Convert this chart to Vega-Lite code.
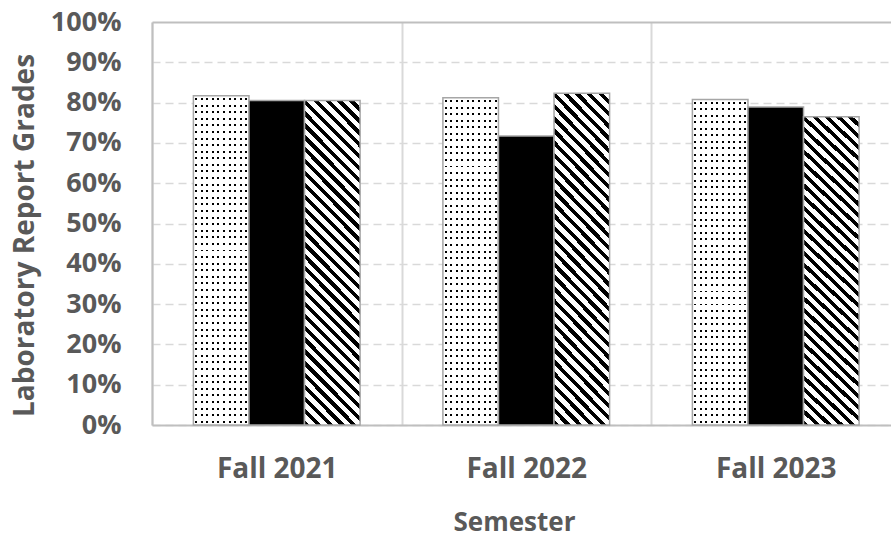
{
  "$schema": "https://vega.github.io/schema/vega-lite/v6.json",
  "autosize": {"type": "none"},
  "width": 739,
  "height": 403,
  "padding": {"left": 152, "top": 22, "right": 0, "bottom": 112},
  "background": "#ffffff",
  "config": {"view": {"stroke": null}},
  "data": {
    "values": [
      {"semester": "Fall 2021", "series": "A", "grade": 0.817},
      {"semester": "Fall 2021", "series": "B", "grade": 0.805},
      {"semester": "Fall 2021", "series": "C", "grade": 0.805},
      {"semester": "Fall 2022", "series": "A", "grade": 0.812},
      {"semester": "Fall 2022", "series": "B", "grade": 0.717},
      {"semester": "Fall 2022", "series": "C", "grade": 0.823},
      {"semester": "Fall 2023", "series": "A", "grade": 0.808},
      {"semester": "Fall 2023", "series": "B", "grade": 0.789},
      {"semester": "Fall 2023", "series": "C", "grade": 0.765}
    ]
  },
  "encoding": {
    "x": {
      "field": "semester",
      "type": "nominal",
      "scale": {"range": [0, 748.5], "paddingInner": 0, "paddingOuter": 0},
      "axis": {
        "labelAngle": 0,
        "tickBand": "extent",
        "ticks": false,
        "tickSize": 0,
        "labelPadding": 30,
        "labelFont": "Open Sans",
        "labelFontSize": 28,
        "labelFontWeight": "bold",
        "labelColor": "#595959",
        "domainColor": "#bfbfbf",
        "domainWidth": 2,
        "grid": true,
        "gridColor": "#d9d9d9",
        "gridWidth": 2,
        "title": "Semester",
        "titleFont": "Open Sans",
        "titleFontSize": 26,
        "titleFontWeight": "bold",
        "titleColor": "#595959",
        "titleX": 362,
        "titleY": 105,
        "titleAlign": "center",
        "titleBaseline": "alphabetic"
      }
    },
    "xOffset": {
      "field": "series",
      "type": "nominal",
      "scale": {"paddingInner": 0, "paddingOuter": 0.745}
    },
    "y": {
      "field": "grade",
      "type": "quantitative",
      "scale": {"domain": [0, 1], "nice": false},
      "axis": {
        "values": [0, 0.1, 0.2, 0.3, 0.4, 0.5, 0.6, 0.7, 0.8, 0.9, 1],
        "format": ".0%",
        "ticks": false,
        "tickSize": 0,
        "labelPadding": 31,
        "labelFont": "Open Sans",
        "labelFontSize": 27,
        "labelFontWeight": "bold",
        "labelColor": "#595959",
        "domainColor": "#bfbfbf",
        "domainWidth": 2,
        "grid": true,
        "gridColor": {"condition": {"test": "datum.value === 1", "value": "#bfbfbf"}, "value": "#d9d9d9"},
        "gridDash": {"condition": {"test": "datum.value === 1", "value": []}, "value": [8, 5]},
        "gridWidth": {"condition": {"test": "datum.value === 1", "value": 2}, "value": 1.5},
        "title": "Laboratory Report Grades",
        "titleFont": "Open Sans",
        "titleFontSize": 28,
        "titleFontWeight": "bold",
        "titleColor": "#595959",
        "titleAngle": -90,
        "titleX": -119,
        "titleY": 213,
        "titleAlign": "center",
        "titleBaseline": "alphabetic"
      }
    }
  },
  "layer": [
    {
      "transform": [{"filter": "datum.series === 'A'"}],
      "mark": {
        "type": "bar",
        "strokeWidth": 0,
        "fill": {
          "gradient": "linear", "x1": 0, "y1": 0, "x2": 0, "y2": 1,
          "stops": [
            {"offset": 0.007, "color": "#fff"}, {"offset": 0.007, "color": "#000"}, {"offset": 0.013, "color": "#000"}, {"offset": 0.013, "color": "#fff"},
            {"offset": 0.027, "color": "#fff"}, {"offset": 0.027, "color": "#000"}, {"offset": 0.033, "color": "#000"}, {"offset": 0.033, "color": "#fff"},
            {"offset": 0.047, "color": "#fff"}, {"offset": 0.047, "color": "#000"}, {"offset": 0.053, "color": "#000"}, {"offset": 0.053, "color": "#fff"},
            {"offset": 0.067, "color": "#fff"}, {"offset": 0.067, "color": "#000"}, {"offset": 0.073, "color": "#000"}, {"offset": 0.073, "color": "#fff"},
            {"offset": 0.087, "color": "#fff"}, {"offset": 0.087, "color": "#000"}, {"offset": 0.093, "color": "#000"}, {"offset": 0.093, "color": "#fff"},
            {"offset": 0.107, "color": "#fff"}, {"offset": 0.107, "color": "#000"}, {"offset": 0.113, "color": "#000"}, {"offset": 0.113, "color": "#fff"},
            {"offset": 0.127, "color": "#fff"}, {"offset": 0.127, "color": "#000"}, {"offset": 0.133, "color": "#000"}, {"offset": 0.133, "color": "#fff"},
            {"offset": 0.147, "color": "#fff"}, {"offset": 0.147, "color": "#000"}, {"offset": 0.153, "color": "#000"}, {"offset": 0.153, "color": "#fff"},
            {"offset": 0.167, "color": "#fff"}, {"offset": 0.167, "color": "#000"}, {"offset": 0.173, "color": "#000"}, {"offset": 0.173, "color": "#fff"},
            {"offset": 0.187, "color": "#fff"}, {"offset": 0.187, "color": "#000"}, {"offset": 0.193, "color": "#000"}, {"offset": 0.193, "color": "#fff"},
            {"offset": 0.207, "color": "#fff"}, {"offset": 0.207, "color": "#000"}, {"offset": 0.213, "color": "#000"}, {"offset": 0.213, "color": "#fff"},
            {"offset": 0.227, "color": "#fff"}, {"offset": 0.227, "color": "#000"}, {"offset": 0.233, "color": "#000"}, {"offset": 0.233, "color": "#fff"},
            {"offset": 0.247, "color": "#fff"}, {"offset": 0.247, "color": "#000"}, {"offset": 0.253, "color": "#000"}, {"offset": 0.253, "color": "#fff"},
            {"offset": 0.267, "color": "#fff"}, {"offset": 0.267, "color": "#000"}, {"offset": 0.273, "color": "#000"}, {"offset": 0.273, "color": "#fff"},
            {"offset": 0.287, "color": "#fff"}, {"offset": 0.287, "color": "#000"}, {"offset": 0.293, "color": "#000"}, {"offset": 0.293, "color": "#fff"},
            {"offset": 0.307, "color": "#fff"}, {"offset": 0.307, "color": "#000"}, {"offset": 0.313, "color": "#000"}, {"offset": 0.313, "color": "#fff"},
            {"offset": 0.327, "color": "#fff"}, {"offset": 0.327, "color": "#000"}, {"offset": 0.333, "color": "#000"}, {"offset": 0.333, "color": "#fff"},
            {"offset": 0.347, "color": "#fff"}, {"offset": 0.347, "color": "#000"}, {"offset": 0.353, "color": "#000"}, {"offset": 0.353, "color": "#fff"},
            {"offset": 0.367, "color": "#fff"}, {"offset": 0.367, "color": "#000"}, {"offset": 0.373, "color": "#000"}, {"offset": 0.373, "color": "#fff"},
            {"offset": 0.387, "color": "#fff"}, {"offset": 0.387, "color": "#000"}, {"offset": 0.393, "color": "#000"}, {"offset": 0.393, "color": "#fff"},
            {"offset": 0.407, "color": "#fff"}, {"offset": 0.407, "color": "#000"}, {"offset": 0.413, "color": "#000"}, {"offset": 0.413, "color": "#fff"},
            {"offset": 0.427, "color": "#fff"}, {"offset": 0.427, "color": "#000"}, {"offset": 0.433, "color": "#000"}, {"offset": 0.433, "color": "#fff"},
            {"offset": 0.447, "color": "#fff"}, {"offset": 0.447, "color": "#000"}, {"offset": 0.453, "color": "#000"}, {"offset": 0.453, "color": "#fff"},
            {"offset": 0.467, "color": "#fff"}, {"offset": 0.467, "color": "#000"}, {"offset": 0.473, "color": "#000"}, {"offset": 0.473, "color": "#fff"},
            {"offset": 0.487, "color": "#fff"}, {"offset": 0.487, "color": "#000"}, {"offset": 0.493, "color": "#000"}, {"offset": 0.493, "color": "#fff"},
            {"offset": 0.507, "color": "#fff"}, {"offset": 0.507, "color": "#000"}, {"offset": 0.513, "color": "#000"}, {"offset": 0.513, "color": "#fff"},
            {"offset": 0.527, "color": "#fff"}, {"offset": 0.527, "color": "#000"}, {"offset": 0.533, "color": "#000"}, {"offset": 0.533, "color": "#fff"},
            {"offset": 0.547, "color": "#fff"}, {"offset": 0.547, "color": "#000"}, {"offset": 0.553, "color": "#000"}, {"offset": 0.553, "color": "#fff"},
            {"offset": 0.567, "color": "#fff"}, {"offset": 0.567, "color": "#000"}, {"offset": 0.573, "color": "#000"}, {"offset": 0.573, "color": "#fff"},
            {"offset": 0.587, "color": "#fff"}, {"offset": 0.587, "color": "#000"}, {"offset": 0.593, "color": "#000"}, {"offset": 0.593, "color": "#fff"},
            {"offset": 0.607, "color": "#fff"}, {"offset": 0.607, "color": "#000"}, {"offset": 0.613, "color": "#000"}, {"offset": 0.613, "color": "#fff"},
            {"offset": 0.627, "color": "#fff"}, {"offset": 0.627, "color": "#000"}, {"offset": 0.633, "color": "#000"}, {"offset": 0.633, "color": "#fff"},
            {"offset": 0.647, "color": "#fff"}, {"offset": 0.647, "color": "#000"}, {"offset": 0.653, "color": "#000"}, {"offset": 0.653, "color": "#fff"},
            {"offset": 0.667, "color": "#fff"}, {"offset": 0.667, "color": "#000"}, {"offset": 0.673, "color": "#000"}, {"offset": 0.673, "color": "#fff"},
            {"offset": 0.687, "color": "#fff"}, {"offset": 0.687, "color": "#000"}, {"offset": 0.693, "color": "#000"}, {"offset": 0.693, "color": "#fff"},
            {"offset": 0.707, "color": "#fff"}, {"offset": 0.707, "color": "#000"}, {"offset": 0.713, "color": "#000"}, {"offset": 0.713, "color": "#fff"},
            {"offset": 0.727, "color": "#fff"}, {"offset": 0.727, "color": "#000"}, {"offset": 0.733, "color": "#000"}, {"offset": 0.733, "color": "#fff"},
            {"offset": 0.747, "color": "#fff"}, {"offset": 0.747, "color": "#000"}, {"offset": 0.753, "color": "#000"}, {"offset": 0.753, "color": "#fff"},
            {"offset": 0.767, "color": "#fff"}, {"offset": 0.767, "color": "#000"}, {"offset": 0.773, "color": "#000"}, {"offset": 0.773, "color": "#fff"},
            {"offset": 0.787, "color": "#fff"}, {"offset": 0.787, "color": "#000"}, {"offset": 0.793, "color": "#000"}, {"offset": 0.793, "color": "#fff"},
            {"offset": 0.807, "color": "#fff"}, {"offset": 0.807, "color": "#000"}, {"offset": 0.813, "color": "#000"}, {"offset": 0.813, "color": "#fff"},
            {"offset": 0.827, "color": "#fff"}, {"offset": 0.827, "color": "#000"}, {"offset": 0.833, "color": "#000"}, {"offset": 0.833, "color": "#fff"},
            {"offset": 0.847, "color": "#fff"}, {"offset": 0.847, "color": "#000"}, {"offset": 0.853, "color": "#000"}, {"offset": 0.853, "color": "#fff"},
            {"offset": 0.867, "color": "#fff"}, {"offset": 0.867, "color": "#000"}, {"offset": 0.873, "color": "#000"}, {"offset": 0.873, "color": "#fff"},
            {"offset": 0.887, "color": "#fff"}, {"offset": 0.887, "color": "#000"}, {"offset": 0.893, "color": "#000"}, {"offset": 0.893, "color": "#fff"},
            {"offset": 0.907, "color": "#fff"}, {"offset": 0.907, "color": "#000"}, {"offset": 0.913, "color": "#000"}, {"offset": 0.913, "color": "#fff"},
            {"offset": 0.927, "color": "#fff"}, {"offset": 0.927, "color": "#000"}, {"offset": 0.933, "color": "#000"}, {"offset": 0.933, "color": "#fff"},
            {"offset": 0.947, "color": "#fff"}, {"offset": 0.947, "color": "#000"}, {"offset": 0.953, "color": "#000"}, {"offset": 0.953, "color": "#fff"},
            {"offset": 0.967, "color": "#fff"}, {"offset": 0.967, "color": "#000"}, {"offset": 0.973, "color": "#000"}, {"offset": 0.973, "color": "#fff"},
            {"offset": 0.987, "color": "#fff"}, {"offset": 0.987, "color": "#000"}, {"offset": 0.993, "color": "#000"}, {"offset": 0.993, "color": "#fff"}
          ]
        }
      }
    },
    {
      "transform": [{"filter": "datum.series === 'A'"}],
      "mark": {
        "type": "bar",
        "stroke": "#a6a6a6",
        "strokeWidth": 1.5,
        "fill": {
          "gradient": "linear", "x1": 0, "y1": 0, "x2": 1, "y2": 0,
          "stops": [
            {"offset": 0.032, "color": "#fff"}, {"offset": 0.032, "color": "rgba(255,255,255,0)"}, {"offset": 0.068, "color": "rgba(255,255,255,0)"}, {"offset": 0.068, "color": "#fff"},
            {"offset": 0.132, "color": "#fff"}, {"offset": 0.132, "color": "rgba(255,255,255,0)"}, {"offset": 0.168, "color": "rgba(255,255,255,0)"}, {"offset": 0.168, "color": "#fff"},
            {"offset": 0.232, "color": "#fff"}, {"offset": 0.232, "color": "rgba(255,255,255,0)"}, {"offset": 0.268, "color": "rgba(255,255,255,0)"}, {"offset": 0.268, "color": "#fff"},
            {"offset": 0.332, "color": "#fff"}, {"offset": 0.332, "color": "rgba(255,255,255,0)"}, {"offset": 0.368, "color": "rgba(255,255,255,0)"}, {"offset": 0.368, "color": "#fff"},
            {"offset": 0.432, "color": "#fff"}, {"offset": 0.432, "color": "rgba(255,255,255,0)"}, {"offset": 0.468, "color": "rgba(255,255,255,0)"}, {"offset": 0.468, "color": "#fff"},
            {"offset": 0.532, "color": "#fff"}, {"offset": 0.532, "color": "rgba(255,255,255,0)"}, {"offset": 0.568, "color": "rgba(255,255,255,0)"}, {"offset": 0.568, "color": "#fff"},
            {"offset": 0.632, "color": "#fff"}, {"offset": 0.632, "color": "rgba(255,255,255,0)"}, {"offset": 0.668, "color": "rgba(255,255,255,0)"}, {"offset": 0.668, "color": "#fff"},
            {"offset": 0.732, "color": "#fff"}, {"offset": 0.732, "color": "rgba(255,255,255,0)"}, {"offset": 0.768, "color": "rgba(255,255,255,0)"}, {"offset": 0.768, "color": "#fff"},
            {"offset": 0.832, "color": "#fff"}, {"offset": 0.832, "color": "rgba(255,255,255,0)"}, {"offset": 0.868, "color": "rgba(255,255,255,0)"}, {"offset": 0.868, "color": "#fff"},
            {"offset": 0.932, "color": "#fff"}, {"offset": 0.932, "color": "rgba(255,255,255,0)"}, {"offset": 0.968, "color": "rgba(255,255,255,0)"}, {"offset": 0.968, "color": "#fff"}
          ]
        }
      }
    },
    {
      "transform": [{"filter": "datum.series === 'B'"}],
      "mark": {"type": "bar", "fill": "#000000", "stroke": "#a6a6a6", "strokeWidth": 1.5}
    },
    {
      "transform": [{"filter": "datum.series === 'C'"}],
      "mark": {
        "type": "bar",
        "stroke": "#a6a6a6",
        "strokeWidth": 1.5,
        "fill": {
          "gradient": "linear", "x1": 0, "y1": 1, "x2": 0.197, "y2": -0.139,
          "stops": [
            {"offset": 0, "color": "#000"}, {"offset": 0.014, "color": "#000"}, {"offset": 0.014, "color": "#fff"}, {"offset": 0.03125, "color": "#fff"},
            {"offset": 0.03125, "color": "#000"}, {"offset": 0.04525, "color": "#000"}, {"offset": 0.04525, "color": "#fff"}, {"offset": 0.0625, "color": "#fff"},
            {"offset": 0.0625, "color": "#000"}, {"offset": 0.0765, "color": "#000"}, {"offset": 0.0765, "color": "#fff"}, {"offset": 0.09375, "color": "#fff"},
            {"offset": 0.09375, "color": "#000"}, {"offset": 0.10775, "color": "#000"}, {"offset": 0.10775, "color": "#fff"}, {"offset": 0.125, "color": "#fff"},
            {"offset": 0.125, "color": "#000"}, {"offset": 0.139, "color": "#000"}, {"offset": 0.139, "color": "#fff"}, {"offset": 0.15625, "color": "#fff"},
            {"offset": 0.15625, "color": "#000"}, {"offset": 0.17025, "color": "#000"}, {"offset": 0.17025, "color": "#fff"}, {"offset": 0.1875, "color": "#fff"},
            {"offset": 0.1875, "color": "#000"}, {"offset": 0.2015, "color": "#000"}, {"offset": 0.2015, "color": "#fff"}, {"offset": 0.21875, "color": "#fff"},
            {"offset": 0.21875, "color": "#000"}, {"offset": 0.23275, "color": "#000"}, {"offset": 0.23275, "color": "#fff"}, {"offset": 0.25, "color": "#fff"},
            {"offset": 0.25, "color": "#000"}, {"offset": 0.264, "color": "#000"}, {"offset": 0.264, "color": "#fff"}, {"offset": 0.28125, "color": "#fff"},
            {"offset": 0.28125, "color": "#000"}, {"offset": 0.29525, "color": "#000"}, {"offset": 0.29525, "color": "#fff"}, {"offset": 0.3125, "color": "#fff"},
            {"offset": 0.3125, "color": "#000"}, {"offset": 0.3265, "color": "#000"}, {"offset": 0.3265, "color": "#fff"}, {"offset": 0.34375, "color": "#fff"},
            {"offset": 0.34375, "color": "#000"}, {"offset": 0.35775, "color": "#000"}, {"offset": 0.35775, "color": "#fff"}, {"offset": 0.375, "color": "#fff"},
            {"offset": 0.375, "color": "#000"}, {"offset": 0.389, "color": "#000"}, {"offset": 0.389, "color": "#fff"}, {"offset": 0.40625, "color": "#fff"},
            {"offset": 0.40625, "color": "#000"}, {"offset": 0.42025, "color": "#000"}, {"offset": 0.42025, "color": "#fff"}, {"offset": 0.4375, "color": "#fff"},
            {"offset": 0.4375, "color": "#000"}, {"offset": 0.4515, "color": "#000"}, {"offset": 0.4515, "color": "#fff"}, {"offset": 0.46875, "color": "#fff"},
            {"offset": 0.46875, "color": "#000"}, {"offset": 0.48275, "color": "#000"}, {"offset": 0.48275, "color": "#fff"}, {"offset": 0.5, "color": "#fff"},
            {"offset": 0.5, "color": "#000"}, {"offset": 0.514, "color": "#000"}, {"offset": 0.514, "color": "#fff"}, {"offset": 0.53125, "color": "#fff"},
            {"offset": 0.53125, "color": "#000"}, {"offset": 0.54525, "color": "#000"}, {"offset": 0.54525, "color": "#fff"}, {"offset": 0.5625, "color": "#fff"},
            {"offset": 0.5625, "color": "#000"}, {"offset": 0.5765, "color": "#000"}, {"offset": 0.5765, "color": "#fff"}, {"offset": 0.59375, "color": "#fff"},
            {"offset": 0.59375, "color": "#000"}, {"offset": 0.60775, "color": "#000"}, {"offset": 0.60775, "color": "#fff"}, {"offset": 0.625, "color": "#fff"},
            {"offset": 0.625, "color": "#000"}, {"offset": 0.639, "color": "#000"}, {"offset": 0.639, "color": "#fff"}, {"offset": 0.65625, "color": "#fff"},
            {"offset": 0.65625, "color": "#000"}, {"offset": 0.67025, "color": "#000"}, {"offset": 0.67025, "color": "#fff"}, {"offset": 0.6875, "color": "#fff"},
            {"offset": 0.6875, "color": "#000"}, {"offset": 0.7015, "color": "#000"}, {"offset": 0.7015, "color": "#fff"}, {"offset": 0.71875, "color": "#fff"},
            {"offset": 0.71875, "color": "#000"}, {"offset": 0.73275, "color": "#000"}, {"offset": 0.73275, "color": "#fff"}, {"offset": 0.75, "color": "#fff"},
            {"offset": 0.75, "color": "#000"}, {"offset": 0.764, "color": "#000"}, {"offset": 0.764, "color": "#fff"}, {"offset": 0.78125, "color": "#fff"},
            {"offset": 0.78125, "color": "#000"}, {"offset": 0.79525, "color": "#000"}, {"offset": 0.79525, "color": "#fff"}, {"offset": 0.8125, "color": "#fff"},
            {"offset": 0.8125, "color": "#000"}, {"offset": 0.8265, "color": "#000"}, {"offset": 0.8265, "color": "#fff"}, {"offset": 0.84375, "color": "#fff"},
            {"offset": 0.84375, "color": "#000"}, {"offset": 0.85775, "color": "#000"}, {"offset": 0.85775, "color": "#fff"}, {"offset": 0.875, "color": "#fff"},
            {"offset": 0.875, "color": "#000"}, {"offset": 0.889, "color": "#000"}, {"offset": 0.889, "color": "#fff"}, {"offset": 0.90625, "color": "#fff"},
            {"offset": 0.90625, "color": "#000"}, {"offset": 0.92025, "color": "#000"}, {"offset": 0.92025, "color": "#fff"}, {"offset": 0.9375, "color": "#fff"},
            {"offset": 0.9375, "color": "#000"}, {"offset": 0.9515, "color": "#000"}, {"offset": 0.9515, "color": "#fff"}, {"offset": 0.96875, "color": "#fff"},
            {"offset": 0.96875, "color": "#000"}, {"offset": 0.98275, "color": "#000"}, {"offset": 0.98275, "color": "#fff"}, {"offset": 1, "color": "#fff"}
          ]
        }
      }
    }
  ]
}
